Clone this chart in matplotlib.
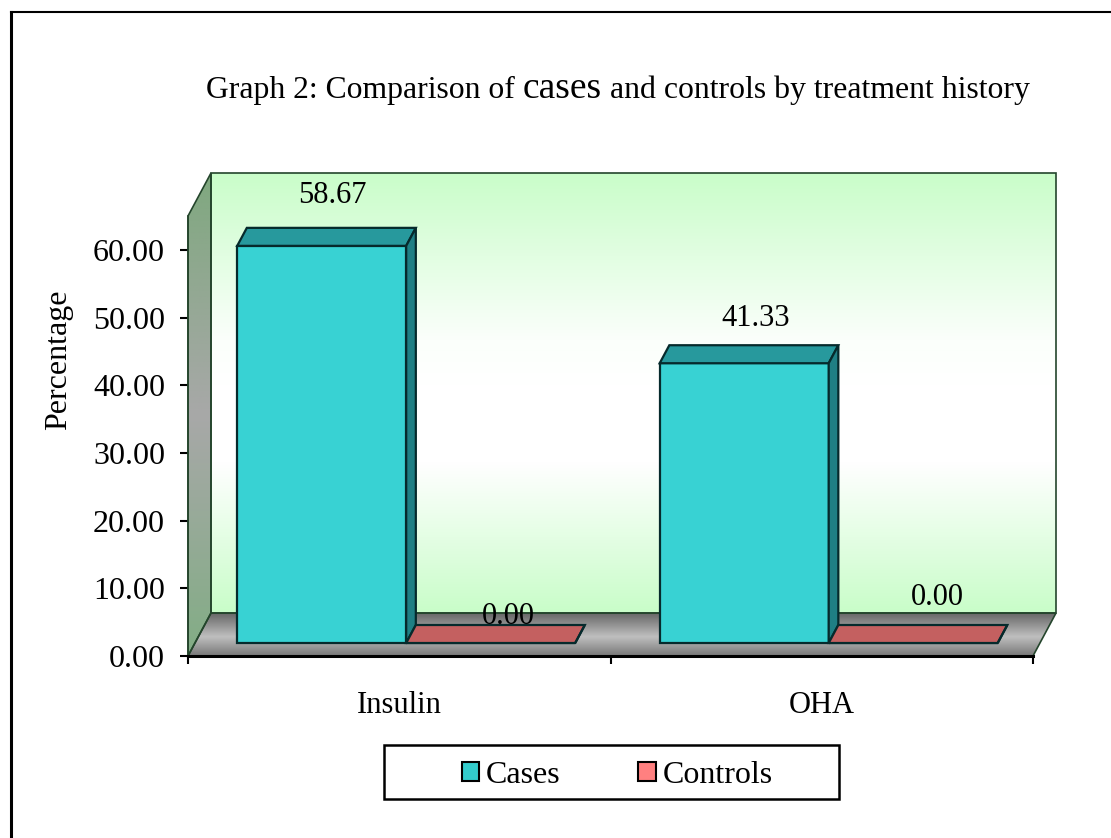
import matplotlib
matplotlib.use("Agg")
import matplotlib.pyplot as plt
import numpy as np
from matplotlib.colors import LinearSegmentedColormap
from matplotlib.lines import Line2D
from matplotlib.patches import Patch, Polygon, Rectangle

plt.rcParams['font.family'] = ['Liberation Serif', 'DejaVu Serif']

categories = ["Insulin", "OHA"]
series_names = ["Cases", "Controls"]
cases = [58.67, 41.33]
controls = [0.00, 0.00]
y_ticks = [0, 10, 20, 30, 40, 50, 60]

W, H = 1111, 838
FONT = 23

# depth of the fake 3d box, in axis units
DEPTH_X = 23 / 422.5
DEPTH_Y = 43 / 6.77
BAR_NEAR = 13 / 43
BAR_FAR = 31 / 43
BAR_W = 0.4
GAP = 0.1

fig = plt.figure(figsize=(W / 100, H / 100), dpi=100, facecolor="white")
ax = fig.add_axes([188 / W, (H - 656) / H, 845 / W, 440 / H])


def gradient(points, stops, z=1):
    # vertical colour ramp clipped to a polygon
    poly = Polygon(points, closed=True, facecolor="none", edgecolor="#24452c",
                   linewidth=1.2, clip_on=False, zorder=z + 0.5)
    ax.add_patch(poly)
    xs = [p[0] for p in points]
    ys = [p[1] for p in points]
    cmap = LinearSegmentedColormap.from_list("ramp", stops)
    ramp = np.linspace(0, 1, 256).reshape(-1, 1)
    im = ax.imshow(ramp, cmap=cmap, aspect="auto", origin="upper",
                   extent=(min(xs), max(xs), min(ys), max(ys)), zorder=z)
    im.set_clip_path(poly)
    im.set_clip_box(fig.bbox)


def draw_bar(x, value, front, top, side):
    y0 = DEPTH_Y * BAR_NEAR
    xl = x + DEPTH_X * BAR_NEAR
    xr = xl + BAR_W
    dx = DEPTH_X * (BAR_FAR - BAR_NEAR)
    dy = DEPTH_Y * (BAR_FAR - BAR_NEAR)
    edge = dict(edgecolor="#062a2c", linewidth=1.6, zorder=4)
    ax.bar(xl, value, BAR_W, bottom=y0, align="edge", color=front, **edge)
    ax.add_patch(Polygon([(xl, y0 + value), (xr, y0 + value), (xr + dx, y0 + value + dy),
                          (xl + dx, y0 + value + dy)], facecolor=top, **edge))
    ax.add_patch(Polygon([(xr, y0), (xr + dx, y0 + dy), (xr + dx, y0 + value + dy),
                          (xr, y0 + value)], facecolor=side, **edge))
    return (xl + xr + dx) / 2, y0 + value + dy


# back wall, side wall and floor
gradient([(DEPTH_X, DEPTH_Y), (2 + DEPTH_X, DEPTH_Y), (2 + DEPTH_X, 65 + DEPTH_Y), (DEPTH_X, 65 + DEPTH_Y)],
         [(0, "#c9fdc9"), (0.38, "#fbfffb"), (0.48, "#ffffff"), (0.66, "#ffffff"), (1, "#c9fdc9")])
gradient([(0, 0), (DEPTH_X, DEPTH_Y), (DEPTH_X, 65 + DEPTH_Y), (0, 65)],
         [(0, "#7fa87f"), (0.5, "#a8a8a8"), (1, "#82ad85")])
gradient([(0, 0), (2, 0), (2 + DEPTH_X, DEPTH_Y), (DEPTH_X, DEPTH_Y)],
         [(0, "#666666"), (0.55, "#bfbfbf"), (1, "#777777")])

# pixel offsets of the value labels from the top of each bar
label_offsets = [[(6, 32), (13, 9)], [(7, 27), (19, 28)]]

for i in range(len(categories)):
    x = i + GAP
    tops = [draw_bar(x, cases[i], "#38d2d3", "#27999d", "#1f7f84"),
            draw_bar(x + BAR_W, controls[i], "#c46060", "#c46060", "#8a3f3f")]
    for (px, py), val, off in zip(tops, [cases[i], controls[i]], label_offsets[i]):
        ax.annotate("%.2f" % val, (px, py), xytext=off, textcoords="offset pixels",
                    ha="center", va="center", fontsize=FONT - 1, color="black",
                    annotation_clip=False, zorder=6)

ax.set_xlim(0, 2)
ax.set_ylim(0, 65)
ax.set_yticks(y_ticks)
ax.set_yticklabels(["%.2f" % t for t in y_ticks], fontsize=FONT)
ax.set_xticks([0, 1, 2])
ax.set_xticklabels([])
ax.set_xticks([0.5, 1.5], minor=True)
ax.set_xticklabels(categories, minor=True, fontsize=FONT - 1)
ax.tick_params(axis="both", which="major", length=6, width=1.5, color="black", pad=10.5)
ax.tick_params(axis="x", which="minor", length=0, pad=25)

for name in ["top", "right"]:
    ax.spines[name].set_visible(False)
ax.spines["left"].set_color("#24452c")
ax.spines["left"].set_linewidth(1.2)
ax.spines["bottom"].set_linewidth(2.2)
ax.patch.set_visible(False)
for sp in ax.spines.values():
    sp.set_zorder(5)

fig.text(59 / W, 1 - 360 / H, "Percentage", rotation=90, ha="center", va="center", fontsize=FONT)

# title, with the one word set larger
fig.canvas.draw()
renderer = fig.canvas.get_renderer()
cursor = 206
for piece, size in [("Graph 2: Comparison of ", 22.8), ("cases", 27),
                    (" and controls by treatment history", 22.9)]:
    t = fig.text(cursor / W, 1 - 98 / H, piece.replace(" ", "\u00a0"), fontsize=size, ha="left", va="baseline")
    cursor = t.get_window_extent(renderer).x1

# legend inside a separately drawn box
fig.add_artist(Rectangle((384 / W, 1 - 799 / H), 455 / W, 54 / H, transform=fig.transFigure,
                         facecolor="white", edgecolor="black", linewidth=1.8))
handles = [Patch(facecolor="#33cccc", edgecolor="black", linewidth=1.5),
           Patch(facecolor="#ff8080", edgecolor="black", linewidth=1.5)]
fig.legend(handles, series_names, ncol=2, frameon=False, fontsize=FONT,
           loc="center", bbox_to_anchor=(617 / W, 1 - 775 / H),
           handlelength=0.55, handleheight=0.55, handletextpad=0.2, columnspacing=2.45)

# page border, open on the right and at the bottom
fig.add_artist(Line2D([11 / W, 1], [1 - 12 / H, 1 - 12 / H], color="black", linewidth=1.5))
fig.add_artist(Line2D([11 / W, 11 / W], [0, 1 - 12 / H], color="black", linewidth=2.2))

fig.savefig("out.png", dpi=100)
